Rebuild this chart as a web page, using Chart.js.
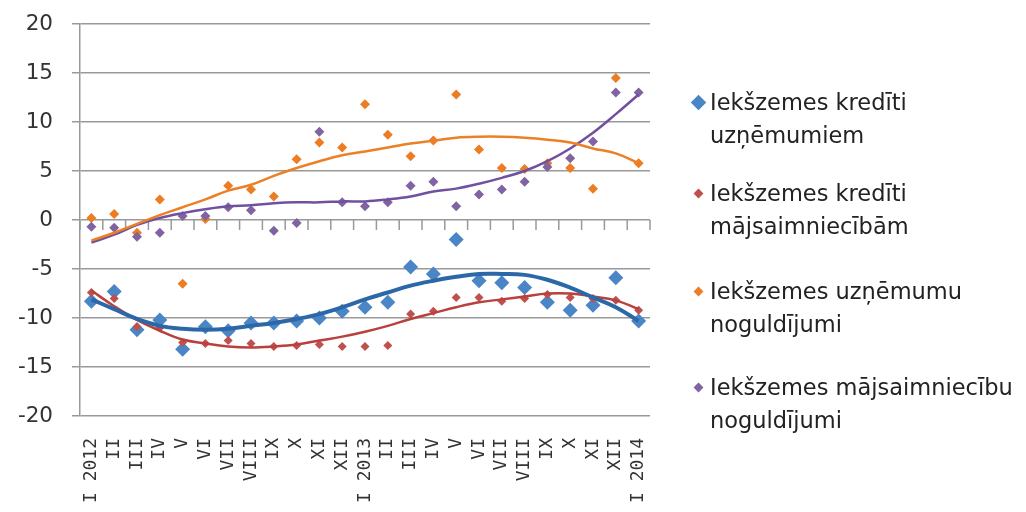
<!DOCTYPE html>
<html>
<head>
<meta charset="utf-8">
<script src="https://cdn.jsdelivr.net/npm/chart.js@4"></script>
<style>
  html, body { margin:0; padding:0; background:#fff; }
  #wrap { position:relative; width:1026px; height:512px; }
  #legend { position:absolute; left:0; top:0; font-family:'DejaVu Sans',sans-serif; font-size:22.5px; color:#222; }
  .item { position:absolute; left:710px; line-height:33px; white-space:nowrap; }
  .mk { position:absolute; transform:rotate(45deg); }
</style>
</head>
<body>
<div id="wrap">
  <canvas id="c" width="1026" height="512"></canvas>
  <div id="legend"></div>
</div>
<script>
const labels = ['I 2012','II','III','IV','V','VI','VII','VIII','IX','X','XI','XII',
  'I 2013','II','III','IV','V','VI','VII','VIII','IX','X','XI','XII','I 2014'];

// Iekšzemes kredīti uzņēmumiem
const kredUzn = [-8.3,-7.3,-11.2,-10.2,-13.2,-10.9,-11.3,-10.5,-10.5,-10.3,-10.0,-9.3,-8.9,-8.4,-4.8,-5.5,-2.0,-6.2,-6.4,-6.9,-8.4,-9.2,-8.7,-5.9,-10.3];
// Iekšzemes kredīti mājsaimniecībām
const kredMaj = [-7.4,-8.0,-10.9,-11.0,-12.5,-12.6,-12.3,-12.6,-12.9,-12.8,-12.7,-12.9,-12.9,-12.8,-9.6,-9.3,-7.9,-7.9,-8.3,-8.0,-7.6,-7.9,-8.0,-8.2,-9.2];
// Iekšzemes uzņēmumu noguldījumi
const nogUzn = [0.2,0.6,-1.3,2.1,-6.5,0.1,3.5,3.1,2.4,6.2,7.9,7.4,11.8,8.7,6.5,8.1,12.8,7.2,5.3,5.2,5.8,5.3,3.2,14.5,5.8];
// Iekšzemes mājsaimniecību noguldījumi
const nogMaj = [-0.7,-0.8,-1.7,-1.3,0.4,0.4,1.3,1.0,-1.1,-0.3,9.0,1.8,1.4,1.8,3.5,3.9,1.4,2.6,3.1,3.9,5.4,6.3,8.0,13.0,13.0];

// trend lines
const trendKredUzn = [-8.1,-9.1,-10.1,-10.8,-11.1,-11.2,-11.1,-10.8,-10.5,-10.1,-9.6,-8.9,-8.1,-7.4,-6.7,-6.2,-5.8,-5.5,-5.5,-5.6,-6.1,-6.9,-7.9,-8.9,-10.3];
const trendKredMaj = [-7.2,-8.8,-10.2,-11.3,-12.2,-12.6,-12.9,-13.0,-12.9,-12.7,-12.3,-11.9,-11.4,-10.8,-10.1,-9.5,-8.9,-8.4,-8.1,-7.8,-7.5,-7.5,-7.8,-8.2,-9.1];
const trendNogUzn = [-2.1,-1.3,-0.4,0.5,1.3,2.1,3.0,3.6,4.5,5.3,6.0,6.6,7.0,7.4,7.8,8.1,8.4,8.5,8.5,8.4,8.2,7.9,7.3,6.8,5.8];
const trendNogMaj = [-2.3,-1.5,-0.5,0.2,0.7,1.1,1.4,1.5,1.7,1.8,1.8,1.9,1.9,2.1,2.4,2.9,3.2,3.7,4.3,5.0,6.0,7.3,8.9,10.8,12.8];

const seriesNames = [['Iekšzemes kredīti','uzņēmumiem'],['Iekšzemes kredīti','mājsaimniecībām'],
  ['Iekšzemes uzņēmumu','noguldījumi'],['Iekšzemes mājsaimniecību','noguldījumi']];
const pointColors = ['#4a86c6','#c0504d','#ec7d22','#8064a2'];
const lineColors = ['#2c68a8','#b8403d','#ec8026','#7050a0'];

function pts(data, color, r, order) {
  return { data, showLine:false, pointStyle:'rectRot', pointRadius:r, pointHoverRadius:r,
    pointBackgroundColor:color, pointBorderColor:color, pointBorderWidth:0, borderColor:color, order };
}
function trend(data, color, w) {
  return { data, pointRadius:0, borderColor:color, borderWidth:w, tension:0.4, fill:false, order:0 };
}

const axisTicks = {
  id:'axisTicks',
  beforeDatasetsDraw(chart) {
    const c = chart.ctx, x = chart.scales.x, y = chart.scales.y;
    const y0 = y.getPixelForValue(0);
    const step = x.getPixelForValue(1) - x.getPixelForValue(0);
    c.save(); c.strokeStyle='#999'; c.lineWidth=1.5;
    for (let i=0;i<=labels.length;i++) {
      const px = x.getPixelForValue(0) - step/2 + i*step;
      c.beginPath(); c.moveTo(px,y0); c.lineTo(px,y0+10); c.stroke();
    }
    c.restore();
  }
};

new Chart(document.getElementById('c').getContext('2d'), {
  type:'line',
  data:{ labels, datasets:[
    trend(trendKredUzn, lineColors[0], 4),
    trend(trendKredMaj, lineColors[1], 2.5),
    trend(trendNogUzn, lineColors[2], 2.5),
    trend(trendNogMaj, lineColors[3], 2.5),
    pts(nogMaj, pointColors[3], 5, 1),
    pts(nogUzn, pointColors[2], 5, 2),
    pts(kredMaj, pointColors[1], 4.5, 3),
    pts(kredUzn, pointColors[0], 7.5, 4)
  ]},
  options:{ responsive:false, animation:false, devicePixelRatio:1,
    layout:{ padding:{ top:24, right:376, left:0, bottom:0 } },
    plugins:{ legend:{display:false}, tooltip:{enabled:false} },
    scales:{
      x:{ offset:true, grid:{display:false}, border:{display:false},
        ticks:{ color:'#333', font:{family:'DejaVu Sans Mono', size:18}, minRotation:90, maxRotation:90, autoSkip:false, padding:14 },
        afterFit:s=>{ s.height = 96; } },
      y:{ min:-20, max:20, ticks:{ stepSize:5, color:'#333', font:{family:'DejaVu Sans', size:21.5, lineHeight:0.4}, padding:19 },
        grid:{ color:'#999', lineWidth:1.5, tickLength:8 }, border:{ color:'#999', width:1.5 },
        afterFit:s=>{ s.width = 80; } }
    }
  },
  plugins:[axisTicks]
});

// legend
const lg = document.getElementById('legend');
const tops = [86, 177, 275, 371];
const mSize = [11, 7, 7, 7];
seriesNames.forEach((n,i) => {
  const d = document.createElement('div');
  d.className='item'; d.style.top = tops[i]+'px';
  d.innerHTML = n[0]+'<br>'+n[1];
  lg.appendChild(d);
  const m = document.createElement('div');
  m.className='mk';
  m.style.width = m.style.height = mSize[i]+'px';
  m.style.left = (698 - mSize[i]/2)+'px';
  m.style.top = (tops[i]+16.5 - mSize[i]/2)+'px';
  m.style.background = pointColors[i];
  lg.appendChild(m);
});
</script>
</body>
</html>
